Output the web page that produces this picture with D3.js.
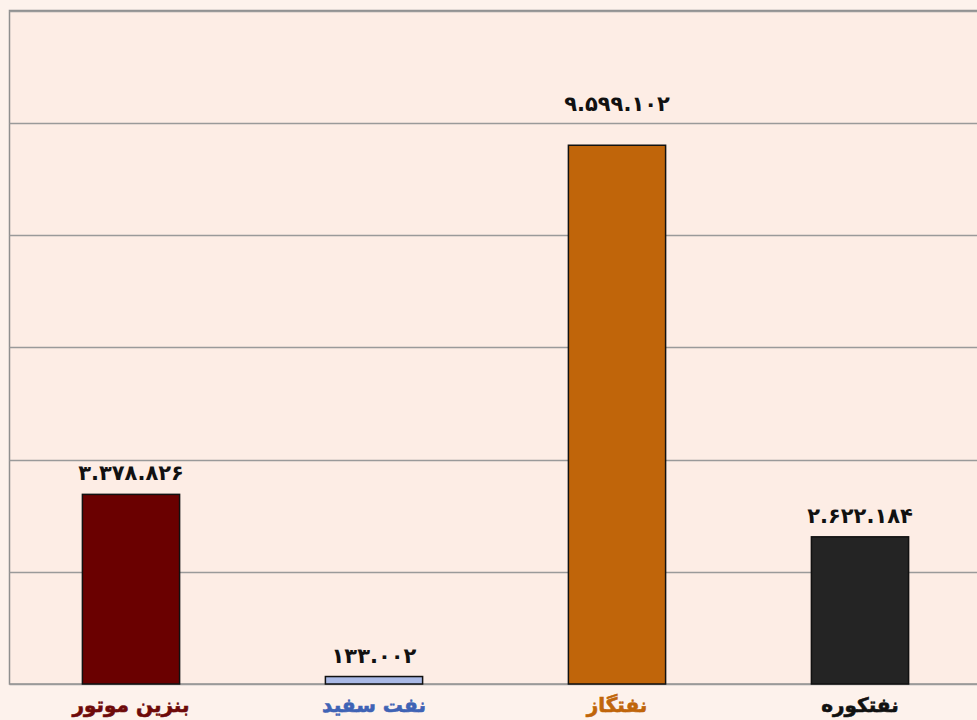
<!DOCTYPE html>
<html>
<head>
<meta charset="utf-8">
<script src="https://cdn.jsdelivr.net/npm/d3@7"></script>
<style>
	body { margin: 0; background: #fdf2ec; }
	svg { display: block; }
</style>
</head>
<body>
<div id="chart"></div>
<script>
"use strict"

// data
var categories = ["بنزین موتور", "نفت سفید", "نفتگاز", "نفتکوره"];
var values = [3378826, 133002, 9599102, 2622184];
var barColors = ["#6a0000", "#a9b9e6", "#c0650a", "#242424"];
var labelColors = ["#6e0a0a", "#3f63b5", "#c0650a", "#111111"];
var gridTicks = [0, 2000000, 4000000, 6000000, 8000000, 10000000, 12000000];

var nWidth = 977, nHeight = 720;
var plotLeft = 9.5, plotTop = 10.5, plotBottom = 684, plotRight = 981.5;

var svg = d3.select("#chart").append("svg")
	.attr("width", nWidth)
	.attr("height", nHeight)
	;

svg.append("rect")
	.attr("x", 0).attr("y", 0)
	.attr("width", nWidth).attr("height", nHeight)
	.attr("fill", "#fdf2ec")
	;

var x = d3.scaleBand()
	.domain(categories)
	.range([plotLeft, plotRight])
	.paddingInner(0.6)
	.paddingOuter(0.3)
	;

var y = d3.scaleLinear()
	.domain([0, 12000000])
	.range([plotBottom, plotTop])
	;

// plot area
svg.append("rect")
	.attr("x", plotLeft).attr("y", plotTop)
	.attr("width", plotRight - plotLeft).attr("height", plotBottom - plotTop)
	.attr("fill", "#fdede5")
	.attr("stroke", "#8f8f8f")
	.attr("stroke-width", 1.5)
	;

svg.append("g")
	.selectAll("line")
	.data(gridTicks)
	.join("line")
	.attr("x1", plotLeft).attr("x2", plotRight)
	.attr("y1", function(d) { return Math.round(y(d)) + 0.5; })
	.attr("y2", function(d) { return Math.round(y(d)) + 0.5; })
	.attr("stroke", "#9a9a9a")
	.attr("stroke-width", 1.4)
	;

// bars
svg.append("g")
	.selectAll("rect")
	.data(values)
	.join("rect")
	.attr("x", function(d, i) { return x(categories[i]); })
	.attr("y", function(d) { return y(d); })
	.attr("width", x.bandwidth())
	.attr("height", function(d) { return plotBottom - y(d); })
	.attr("fill", function(d, i) { return barColors[i]; })
	.attr("stroke", "#111")
	.attr("stroke-width", 1.5)
	;

var faDigits = "۰۱۲۳۴۵۶۷۸۹";
function toFa(n) {
	return d3.format(",")(n)
		.replace(/,/g, ".")
		.replace(/[0-9]/g, function(c) { return faDigits[+c]; });
}

// keep value labels off the gridlines
function labelY(v) {
	var yy = y(v) - 14;
	gridTicks.forEach(function(t) {
		var g = y(t);
		if (g > yy - 16 && g < yy + 6) yy = g - 12;
	});
	return yy;
}

svg.append("g")
	.selectAll("text")
	.data(values)
	.join("text")
	.attr("x", function(d, i) { return x(categories[i]) + x.bandwidth() / 2; })
	.attr("y", function(d) { return labelY(d); })
	.attr("text-anchor", "middle")
	.attr("direction", "ltr")
	.style("font-family", "'DejaVu Sans', sans-serif")
	.style("font-weight", "bold")
	.style("font-size", "21px")
	.style("letter-spacing", "1px")
	.attr("fill", "#111")
	.text(function(d) { return toFa(d); })
	;

svg.append("g")
	.selectAll("text")
	.data(categories)
	.join("text")
	.attr("x", function(d) { return x(d) + x.bandwidth() / 2; })
	.attr("y", 712)
	.attr("text-anchor", "middle")
	.style("font-family", "'DejaVu Sans', sans-serif")
	.style("font-weight", "bold")
	.style("font-size", "20px")
	.style("stroke-width", "0.6px")
	.attr("fill", function(d, i) { return labelColors[i]; })
	.attr("stroke", function(d, i) { return labelColors[i]; })
	.text(function(d) { return d; })
	;
</script>
</body>
</html>
